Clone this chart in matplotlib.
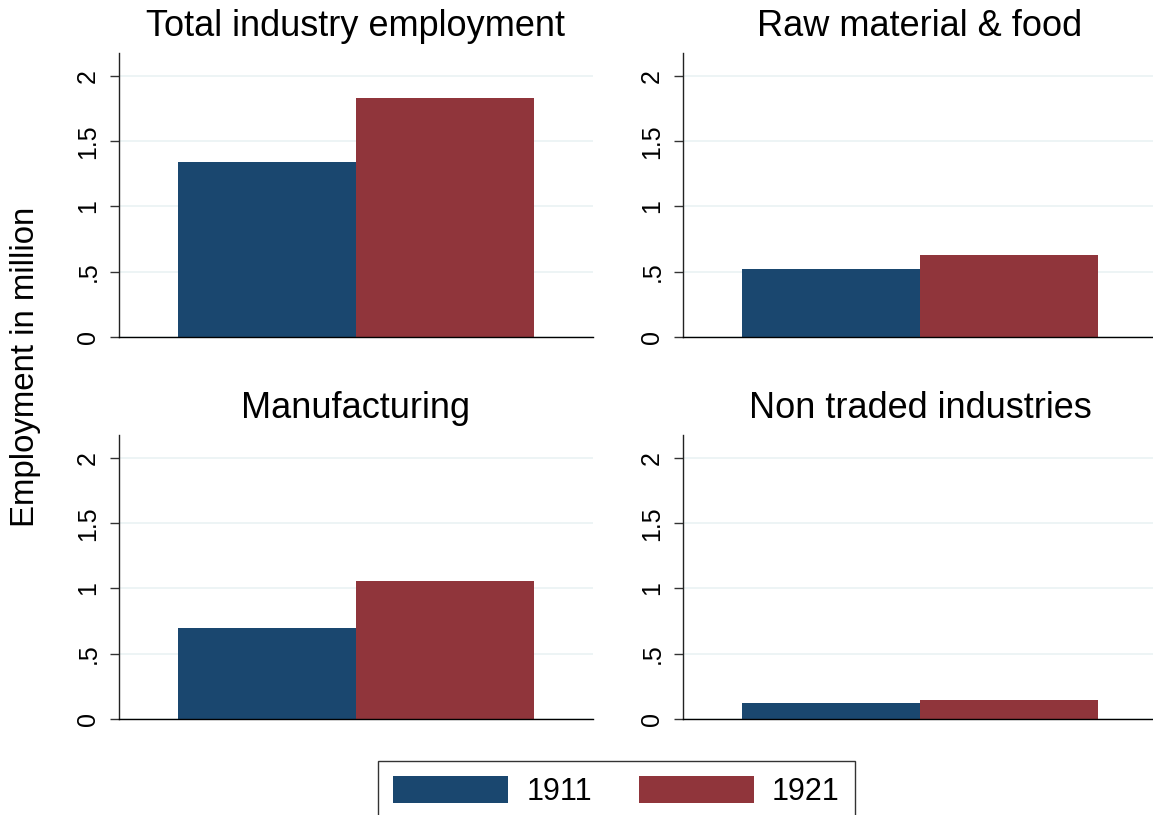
import matplotlib
matplotlib.use("Agg")
import matplotlib.pyplot as plt
from matplotlib.patches import Patch

# Data
panels = ["Total industry employment", "Raw material & food",
          "Manufacturing", "Non traded industries"]
years = ["1911", "1921"]
emp_1911 = [1.343, 0.519, 0.695, 0.122]
emp_1921 = [1.832, 0.626, 1.061, 0.145]
yticks = [0, 0.5, 1, 1.5, 2]
yticklabels = ["0", ".5", "1", "1.5", "2"]

colors = ["#1a476f", "#90353b"]
W, H = 1153, 815
plt.rcParams['font.family'] = ['Liberation Sans', 'DejaVu Sans']

fig = plt.figure(figsize=(W / 100, H / 100), dpi=100)

# axes boxes in pixel coords (left, top, right, bottom)
boxes = [(119, 53, 593, 337), (683, 53, 1157, 337),
         (119, 435, 593, 719), (683, 435, 1157, 719)]

for i, (l, t, r, b) in enumerate(boxes):
    ax = fig.add_axes([l / W, 1 - b / H, (r - l) / W, (b - t) / H])
    ax.bar([0], [emp_1911[i]], width=1, color=colors[0], zorder=2)
    ax.bar([1], [emp_1921[i]], width=1, color=colors[1], zorder=2)
    ax.set_xlim(-0.831, 1.831)
    ax.set_ylim(0, 2.176)
    ax.set_yticks(yticks)
    ax.set_yticklabels(yticklabels)
    ax.set_xticks([])
    ax.tick_params(axis='y', labelrotation=90, labelsize=18, length=6.5,
                   width=1, pad=7, color='#333333')
    for lab in ax.get_yticklabels():
        lab.set_va('center')
    ax.grid(axis='y', color='#eaf2f3', linewidth=1.2, zorder=0)
    ax.set_axisbelow(True)
    for s in ['top', 'right']:
        ax.spines[s].set_visible(False)
    ax.spines['left'].set_linewidth(1.0)
    ax.spines['bottom'].set_linewidth(1.0)
    ax.spines['left'].set_color('#222222')
    ax.spines['bottom'].set_color('#000000')
    ax.set_title(panels[i], fontsize=26, pad=12.5)

fig.text(26 / W, 1 - 367 / H, "Employment in million", rotation=90,
         fontsize=23.8, ha='center', va='center')

handles = [Patch(facecolor=colors[0], edgecolor='none', label=years[0]),
           Patch(facecolor=colors[1], edgecolor='none', label=years[1])]
leg = fig.legend(handles=handles, loc='upper left', ncol=2,
                 bbox_to_anchor=(378 / W, 1 - 761 / H), borderaxespad=0,
                 fontsize=22, handlelength=3.75, handleheight=0.98,
                 handletextpad=0.6, columnspacing=1.55, borderpad=0.5,
                 fancybox=False, frameon=True)
leg.get_frame().set_edgecolor('black')
leg.get_frame().set_linewidth(1.0)

fig.savefig("out.png", dpi=100)
